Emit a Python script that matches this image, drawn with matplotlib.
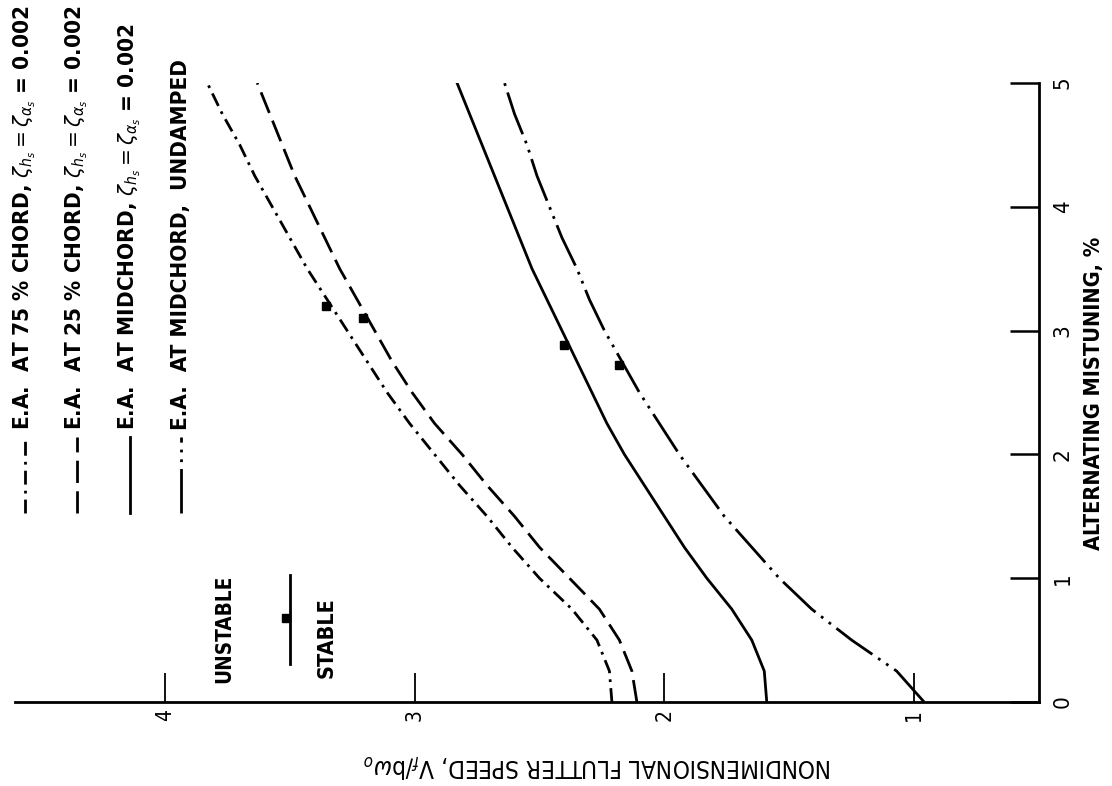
import numpy as np
import matplotlib
matplotlib.use("Agg")
import matplotlib.pyplot as plt
from matplotlib import font_manager
from matplotlib.lines import Line2D

# alternating mistuning (%) and nondimensional flutter speed
mistuning = [0, 0.25, 0.5, 0.75, 1.0, 1.25, 1.5, 1.75, 2.0, 2.25, 2.5,
             2.75, 3.0, 3.25, 3.5, 3.75, 4.0, 4.25, 4.5, 4.75, 5.0]
v_75 = [2.21, 2.22, 2.27, 2.37, 2.50, 2.61, 2.71, 2.82, 2.92, 3.02, 3.11,
        3.19, 3.27, 3.35, 3.43, 3.50, 3.57, 3.64, 3.70, 3.77, 3.83]
v_25 = [2.11, 2.13, 2.18, 2.26, 2.38, 2.50, 2.60, 2.71, 2.81, 2.92, 3.01,
        3.09, 3.16, 3.23, 3.30, 3.36, 3.42, 3.48, 3.53, 3.58, 3.63]
v_mid = [1.59, 1.60, 1.65, 1.73, 1.83, 1.92, 2.00, 2.08, 2.16, 2.23, 2.29,
         2.35, 2.41, 2.47, 2.53, 2.58, 2.63, 2.68, 2.73, 2.78, 2.83]
v_und = [0.96, 1.07, 1.25, 1.41, 1.54, 1.65, 1.76, 1.85, 1.94, 2.02, 2.10,
         2.17, 2.24, 2.30, 2.35, 2.41, 2.46, 2.51, 2.55, 2.60, 2.64]
# mistuning where each stability tick sits
mark_m = [3.2, 3.1, 2.88, 2.72]

legend_text = [
    r"E.A.  AT 75 % CHORD, $\zeta_{h_s} = \zeta_{\alpha_s}$ = 0.002",
    r"E.A.  AT 25 % CHORD, $\zeta_{h_s} = \zeta_{\alpha_s}$ = 0.002",
    r"E.A.  AT MIDCHORD, $\zeta_{h_s} = \zeta_{\alpha_s}$ = 0.002",
    "E.A.  AT MIDCHORD,  UNDAMPED",
]

# look for a narrow sans face, the scan uses a condensed one
fam, stretch = "DejaVu Sans", "normal"
for f in font_manager.fontManager.ttflist:
    narrow = "Narrow" in f.name or "Condensed" in f.name or f.stretch in ("condensed", "semi-condensed")
    if narrow and f.style == "normal" and "Serif" not in f.name and "Mono" not in f.name:
        fam, stretch = f.name, f.stretch
        break
plt.rcParams["font.family"] = [fam, "DejaVu Sans"]
plt.rcParams["font.stretch"] = stretch
plt.rcParams["mathtext.fontset"] = "dejavusans"

W, H = 1112, 786
fig = plt.figure(figsize=(W / 100, H / 100), dpi=100)
ax = fig.add_axes([15 / W, 1 - 702 / H, (1039 - 15) / W, (702 - 83) / H])
ax.set_xlim(4.6, 0.5)
ax.set_ylim(0, 5)

for s in ["top", "left"]:
    ax.spines[s].set_visible(False)
for s in ["right", "bottom"]:
    ax.spines[s].set_linewidth(2.0)

ax.set_xticks([1, 2, 3, 4])
ax.set_yticks([0, 1, 2, 3, 4, 5])
ax.yaxis.tick_right()
ax.tick_params(axis="x", direction="in", length=21, width=1.3, pad=5, labelsize=15, labelrotation=90)
ax.tick_params(axis="y", direction="in", length=21, width=1.8, pad=10, labelsize=16, labelrotation=90)
for lab in ax.get_yticklabels():
    lab.set_verticalalignment("center")

lw = 2.0
styles = [(0, (5, 2.2, 1, 2.2)), (0, (8, 3)), "-", (0, (16, 2.5, 1, 2.5, 1, 2.5))]
speeds = [v_75, v_25, v_mid, v_und]
for vv, ls, mk in zip(speeds, styles, mark_m):
    ax.plot(vv, mistuning, color="black", lw=lw, linestyle=ls)
    ax.plot(np.interp(mk, mistuning, vv) + 0.02, mk, marker="s", ms=5.5, color="black")

renderer = fig.canvas.get_renderer()


def fit(t, target, vertical=True):
    # scale font so the text spans about as many pixels as in the scan
    bb = t.get_window_extent(renderer)
    cur = bb.height if vertical else bb.width
    t.set_fontsize(t.get_fontsize() * target / cur)


# legend keys and text (rotated like the scan)
key_x = [25, 77, 130, 181]
leg = []
for x, ls, txt in zip(key_x, styles, legend_text):
    fig.add_artist(Line2D([x / W, x / W], [1 - 513 / H, 1 - 437 / H], color="black",
                          lw=lw, linestyle=ls, transform=fig.transFigure))
    leg.append(fig.text(x / W, 1 - 430 / H, txt, rotation=90, ha="center", va="bottom",
                        fontsize=12, fontweight="bold"))
fit(leg[0], 425)
for t in leg[1:]:
    t.set_fontsize(leg[0].get_fontsize())

# stable / unstable key
fig.add_artist(Line2D([290 / W, 290 / W], [1 - 664 / H, 1 - 575 / H], color="black", lw=2,
                      transform=fig.transFigure))
fig.add_artist(Line2D([286 / W], [1 - 618 / H], marker="s", ms=5.5, color="black",
                      transform=fig.transFigure))
t = fig.text(224 / W, 1 - 629 / H, "UNSTABLE", rotation=90, ha="center", va="center",
             fontsize=12, fontweight="bold")
fit(t, 108)
t = fig.text(327 / W, 1 - 638 / H, "STABLE", rotation=90, ha="center", va="center",
             fontsize=12, fontweight="bold")
fit(t, 81)

t = fig.text(1094 / W, 1 - 393 / H, "ALTERNATING MISTUNING, %", rotation=90,
             ha="center", va="center", fontsize=12, fontweight="bold")
fit(t, 315)
t = fig.text(598 / W, 1 - 766 / H, r"NONDIMENSIONAL FLUTTER SPEED, V$_f$/b$\omega_o$", rotation=180,
             ha="center", va="center", fontsize=12)
fit(t, 469, vertical=False)

fig.savefig("out.png", dpi=100)
